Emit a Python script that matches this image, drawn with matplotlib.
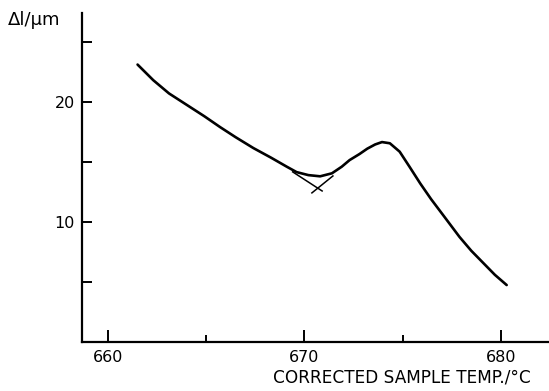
import numpy as np
import matplotlib.pyplot as plt

# expansion curve
temp = [661.5, 662.3, 663.1, 664.0, 664.9, 665.7, 666.5, 667.4, 668.3, 669.1,
        669.6, 670.2, 670.8, 671.4, 671.9, 672.3, 672.8, 673.2, 673.6, 673.95,
        674.35, 674.85, 675.35, 675.9, 676.45, 677.05, 677.9, 678.5, 679.1,
        679.7, 680.3]
dl = [23.1, 21.8, 20.7, 19.75, 18.8, 17.9, 17.05, 16.15, 15.35, 14.6,
      14.15, 13.9, 13.8, 14.05, 14.6, 15.15, 15.65, 16.1, 16.45, 16.65,
      16.55, 15.85, 14.6, 13.2, 11.9, 10.6, 8.75, 7.6, 6.6,
      5.6, 4.75]

# tangent construction near the onset
tan1_x = [669.4, 670.9]
tan1_y = [14.17, 12.58]
tan2_x = [671.45, 670.38]
tan2_y = [13.83, 12.42]

xticks_major = [660, 670, 680]
xticks_minor = [665, 675]
yticks = [5, 10, 15, 20, 25]
ylabels = ['', '10', '', '20', '']

fig = plt.figure(figsize=(5.49, 3.91), dpi=100)
ax = fig.add_axes([0.149, 0.125, 0.849, 0.842])

ax.plot(temp, dl, color='k', lw=1.9, solid_capstyle='round',
        solid_joinstyle='round')
ax.plot(tan1_x, tan1_y, color='k', lw=1.1)
ax.plot(tan2_x, tan2_y, color='k', lw=1.1)

ax.set_xlim(658.66, 682.4)
ax.set_ylim(0, 27.4)

ax.spines['top'].set_visible(False)
ax.spines['right'].set_visible(False)
ax.spines['left'].set_linewidth(1.6)
ax.spines['bottom'].set_linewidth(1.6)

ax.set_xticks(xticks_major)
ax.set_xticks(xticks_minor, minor=True)
ax.set_yticks(yticks)
ax.set_yticklabels(ylabels)
ax.tick_params(axis='x', which='major', direction='in', length=9, width=1.4,
               labelsize=11.5, pad=6)
ax.tick_params(axis='x', which='minor', direction='in', length=5, width=1.4)
ax.tick_params(axis='y', direction='in', length=7, width=1.4,
               labelsize=11.5, pad=5)

fig.text(0.015, 0.948, 'Δl/μm', fontsize=13, ha='left', va='center')
fig.text(0.966, 0.022, 'CORRECTED SAMPLE TEMP./°C', fontsize=12.2,
         ha='right', va='baseline')

plt.savefig('out.png', dpi=100)
